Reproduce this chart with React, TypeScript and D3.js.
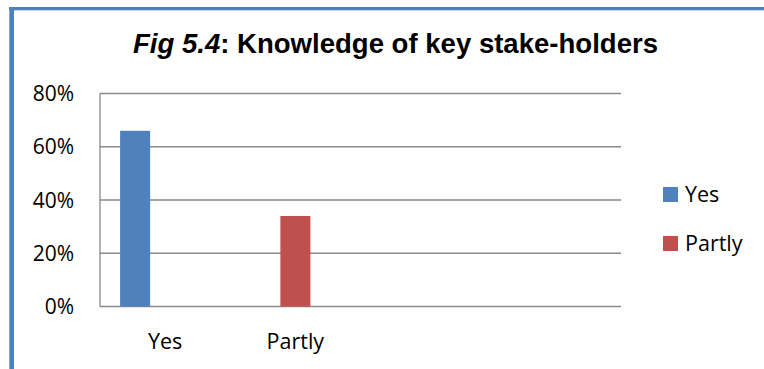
import React from "react";
import * as d3 from "d3";

const categories = ["Yes", "Partly", " ", "  "];
const seriesNames = ["Yes", "Partly"];
const seriesSlots = ["Yes", "Partly", "(blank)"];
const yesValues = [0.66, 0, 0, 0];
const partlyValues = [0, 0.34, 0, 0];
const yTicks = [0, 0.2, 0.4, 0.6, 0.8];
const colors = ["#4f81bd", "#c0504d"];

const W = 764;
const H = 369;
const font = "'Open Sans', 'Noto Sans', sans-serif";

export default function App() {
  const x = d3.scaleBand<string>().domain(categories).range([100, 621]).paddingInner(0).paddingOuter(0);
  const xs = d3
    .scaleBand<string>()
    .domain(seriesSlots)
    .range([0, x.bandwidth()])
    .paddingInner(0)
    .paddingOuter(0.67);
  const y = d3.scaleLinear().domain([0, 0.8]).range([306.5, 93.5]);
  const fmt = d3.format(".0%");
  const seriesValues = [yesValues, partlyValues];

  return (
    <svg
      width={W}
      height={H}
      style={{ position: "absolute", left: 0, top: 0, background: "#fff" }}
    >
      {/* frame */}
      <rect x={9} y={7} width={W} height={3.3} fill="#4f81bd" />
      <rect x={9.3} y={7} width={4.7} height={H} fill="#4f81bd" />

      {/* title */}
      <text
        x={395.5}
        y={53}
        textAnchor="middle"
        fontFamily="'Liberation Sans', Arial, sans-serif"
        fontWeight="bold"
        fontSize={27.5}
        fill="#000"
        textLength={525}
        lengthAdjust="spacingAndGlyphs"
      >
        <tspan fontStyle="italic">Fig 5.4</tspan>
        <tspan>: Knowledge of key stake-holders</tspan>
      </text>

      {/* gridlines */}
      {yTicks.map((t) => (
        <line
          key={t}
          x1={100}
          x2={621}
          y1={y(t)}
          y2={y(t)}
          stroke="#898989"
          strokeWidth={1.3}
        />
      ))}
      <line x1={100} x2={100} y1={y(0.8)} y2={y(0)} stroke="#898989" strokeWidth={1.3} />

      {/* y labels */}
      {yTicks.map((t) => (
        <text
          key={t}
          x={74}
          y={y(t) + 7.5}
          textAnchor="end"
          fontFamily={font}
          fontSize={21}
          fill="#000"
        >
          {fmt(t)}
        </text>
      ))}

      {/* bars */}
      {seriesValues.map((vals, si) =>
        vals.map((v, ci) =>
          v > 0 ? (
            <rect
              key={`${si}-${ci}`}
              x={(x(categories[ci]) as number) + (xs(seriesSlots[si]) as number)}
              width={xs.bandwidth()}
              y={y(v)}
              height={y(0) - y(v)}
              fill={colors[si]}
            />
          ) : null
        )
      )}

      {/* x labels */}
      {categories.map((c) => (
        <text
          key={c}
          x={(x(c) as number) + x.bandwidth() / 2}
          y={349}
          textAnchor="middle"
          fontFamily={font}
          fontSize={21.5}
          fill="#000"
        >
          {c.trim()}
        </text>
      ))}

      {/* legend */}
      {seriesNames.map((s, i) => (
        <g key={s} transform={`translate(663, ${187 + i * 49})`}>
          <rect x={0} y={0} width={15} height={15} fill={colors[i]} />
          <text x={22} y={15} fontFamily={font} fontSize={21.5} fill="#000">
            {s}
          </text>
        </g>
      ))}
    </svg>
  );
}
